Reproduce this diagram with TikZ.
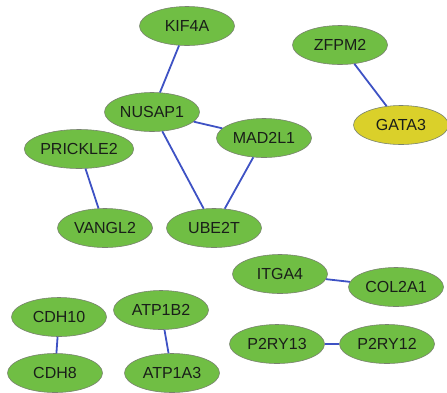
\documentclass[tikz,border=0pt]{standalone}
\usepackage{fontspec}
\setmainfont{Liberation Sans}
\usetikzlibrary{shapes.geometric}
\definecolor{gfill}{RGB}{112,190,68}
\definecolor{yfill}{RGB}{218,208,42}
\definecolor{edgeblue}{RGB}{62,82,196}
\definecolor{outl}{RGB}{120,130,110}
\definecolor{txt}{RGB}{25,30,25}
\tikzset{
  gene/.style={ellipse, draw=outl, line width=0.6pt, fill=gfill, text=txt, minimum width=95pt, minimum height=39pt, inner sep=0pt, font=\fontsize{16}{18}\selectfont},
  hub/.style={gene, fill=yfill},
  link/.style={draw=edgeblue, line width=1.8pt}
}
\begin{document}
\begin{tikzpicture}[x=1pt,y=-1pt]
\useasboundingbox (0,0) rectangle (447,392);
\node[gene] (kif) at (187,26) {KIF4A};
\node[gene] (zfpm) at (340,45) {ZFPM2};
\node[gene] (nusap) at (152,112) {NUSAP1};
\node[gene] (mad) at (264,138) {MAD2L1};
\node[hub] (gata) at (401,125) {GATA3};
\node[gene] (prick) at (79,149) {PRICKLE2};
\node[gene] (vangl) at (105,228) {VANGL2};
\node[gene] (ube) at (214,228) {UBE2T};
\node[gene] (itga) at (280,274) {ITGA4};
\node[gene] (col) at (396,287) {COL2A1};
\node[gene] (cdh10) at (59,317) {CDH10};
\node[gene] (atpb) at (161,310) {ATP1B2};
\node[gene] (p13) at (277,344) {P2RY13};
\node[gene] (p12) at (387,344) {P2RY12};
\node[gene] (cdh8) at (55,373) {CDH8};
\node[gene] (atpa) at (172,373) {ATP1A3};
\path[link] (kif) -- (nusap);
\path[link] (nusap) -- (mad);
\path[link] (nusap) -- (ube);
\path[link] (mad) -- (ube);
\path[link] (zfpm) -- (gata);
\path[link] (prick) -- (vangl);
\path[link] (itga) -- (col);
\path[link] (cdh10) -- (cdh8);
\path[link] (atpb) -- (atpa);
\path[link] (p13) -- (p12);
\end{tikzpicture}
\end{document}
